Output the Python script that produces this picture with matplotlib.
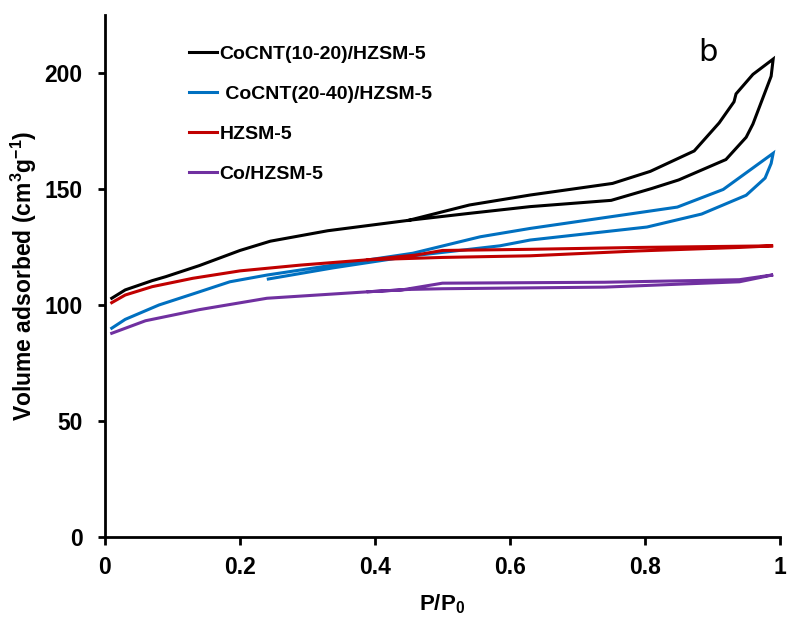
import matplotlib
matplotlib.use("Agg")
import matplotlib.pyplot as plt
import numpy as np

plt.rcParams['font.family'] = ['Liberation Sans', 'DejaVu Sans']
plt.rcParams['mathtext.fontset'] = 'custom'
plt.rcParams['mathtext.rm'] = 'Liberation Sans:bold'
plt.rcParams['mathtext.bf'] = 'Liberation Sans:bold'
plt.rcParams['mathtext.it'] = 'Liberation Sans:bold'

# CoCNT(10-20)/HZSM-5
k_ads_x = [0.01, 0.03, 0.07, 0.09, 0.14, 0.20, 0.245, 0.33, 0.45, 0.54, 0.63, 0.75, 0.81, 0.85, 0.92, 0.95, 0.96, 0.987, 0.99]
k_ads_y = [102.9, 106.5, 110.5, 112.2, 117.0, 123.5, 127.5, 132.0, 136.5, 139.5, 142.4, 145.1, 150.2, 153.9, 162.7, 172.3, 178.0, 198.6, 206.0]
k_des_x = [0.99, 0.96, 0.935, 0.932, 0.91, 0.873, 0.808, 0.752, 0.63, 0.54, 0.45]
k_des_y = [206.0, 199.4, 191.0, 187.6, 178.5, 166.4, 157.6, 152.4, 147.4, 143.1, 136.5]

# CoCNT(20-40)/HZSM-5
b_ads_x = [0.01, 0.03, 0.08, 0.136, 0.185, 0.24, 0.338, 0.456, 0.556, 0.63, 0.848, 0.916, 0.99]
b_ads_y = [90.0, 93.8, 100.0, 105.3, 110.0, 112.9, 117.2, 122.3, 129.4, 133.0, 142.2, 149.8, 165.4]
b_des_x = [0.99, 0.987, 0.978, 0.95, 0.884, 0.803, 0.63, 0.585, 0.456, 0.338, 0.242]
b_des_y = [165.4, 161.0, 154.7, 147.3, 139.2, 133.6, 128.0, 125.5, 121.2, 116.0, 111.2]

# HZSM-5
r_ads_x = [0.01, 0.03, 0.07, 0.13, 0.20, 0.29, 0.39, 0.50, 0.63, 0.79, 0.94, 0.99]
r_ads_y = [101.0, 104.3, 107.9, 111.5, 114.7, 117.2, 119.5, 120.5, 121.2, 123.3, 124.8, 125.5]
r_des_x = [0.99, 0.79, 0.63, 0.50, 0.46, 0.39]
r_des_y = [125.5, 124.8, 124.0, 123.5, 121.5, 119.5]

# Co/HZSM-5
p_ads_x = [0.01, 0.06, 0.14, 0.24, 0.39, 0.45, 0.50, 0.74, 0.94, 0.99]
p_ads_y = [87.8, 93.2, 98.0, 102.9, 105.7, 106.7, 107.0, 107.7, 110.0, 113.0]
p_des_x = [0.99, 0.94, 0.74, 0.50, 0.44, 0.39]
p_des_y = [113.0, 110.9, 109.8, 109.4, 106.5, 105.7]

labels = ['CoCNT(10-20)/HZSM-5', ' CoCNT(20-40)/HZSM-5', 'HZSM-5', 'Co/HZSM-5']
colors = ['#000000', '#0070C0', '#C00000', '#7030A0']
series = [(k_ads_x, k_ads_y, k_des_x, k_des_y),
          (b_ads_x, b_ads_y, b_des_x, b_des_y),
          (r_ads_x, r_ads_y, r_des_x, r_des_y),
          (p_ads_x, p_ads_y, p_des_x, p_des_y)]

xticks = [0, 0.2, 0.4, 0.6, 0.8, 1]
xticklabels = ['0', '0.2', '0.4', '0.6', '0.8', '1']
yticks = [0, 50, 100, 150, 200]

fig = plt.figure(figsize=(7.87, 6.17), dpi=100)
ax = fig.add_axes([0.1334, 0.1297, 0.8576, 0.846])

for (ax_x, ax_y, dx, dy), lab, c in zip(series, labels, colors):
    ax.plot(list(ax_x) + list(dx), list(ax_y) + list(dy), color=c, lw=2.2, label=lab,
            solid_joinstyle='miter')

ax.set_xlim(0, 1)
ax.set_ylim(0, 225)
ax.set_xticks(xticks)
ax.set_xticklabels(xticklabels)
ax.set_yticks(yticks)
for s in ['top', 'right']:
    ax.spines[s].set_visible(False)
for s in ['left', 'bottom']:
    ax.spines[s].set_linewidth(2)
ax.tick_params(axis='x', direction='out', length=6, width=2, labelsize=16.5, pad=8)
ax.tick_params(axis='y', direction='out', length=5, width=2, labelsize=16.5, pad=11)
for t in ax.get_xticklabels() + ax.get_yticklabels():
    t.set_fontweight('bold')

ax.set_xlabel('P/P$_\\mathbf{0}$', fontsize=16, fontweight='bold', labelpad=9)
ax.set_ylabel('Volume adsorbed (cm$^\\mathbf{3}$g$^\\mathbf{-1}$)', fontsize=16.5, fontweight='bold', labelpad=4)

ax.text(0.893, 0.929, 'b', transform=ax.transAxes, fontsize=22, ha='center', va='center',
        family=['DejaVu Sans'])

leg = ax.legend(loc='upper left', bbox_to_anchor=(0.098, 0.975), frameon=False,
                handlelength=1.44, handletextpad=0.15, labelspacing=1.15,
                prop={'weight': 'bold', 'size': 14})

fig.savefig('out.png', dpi=100)
